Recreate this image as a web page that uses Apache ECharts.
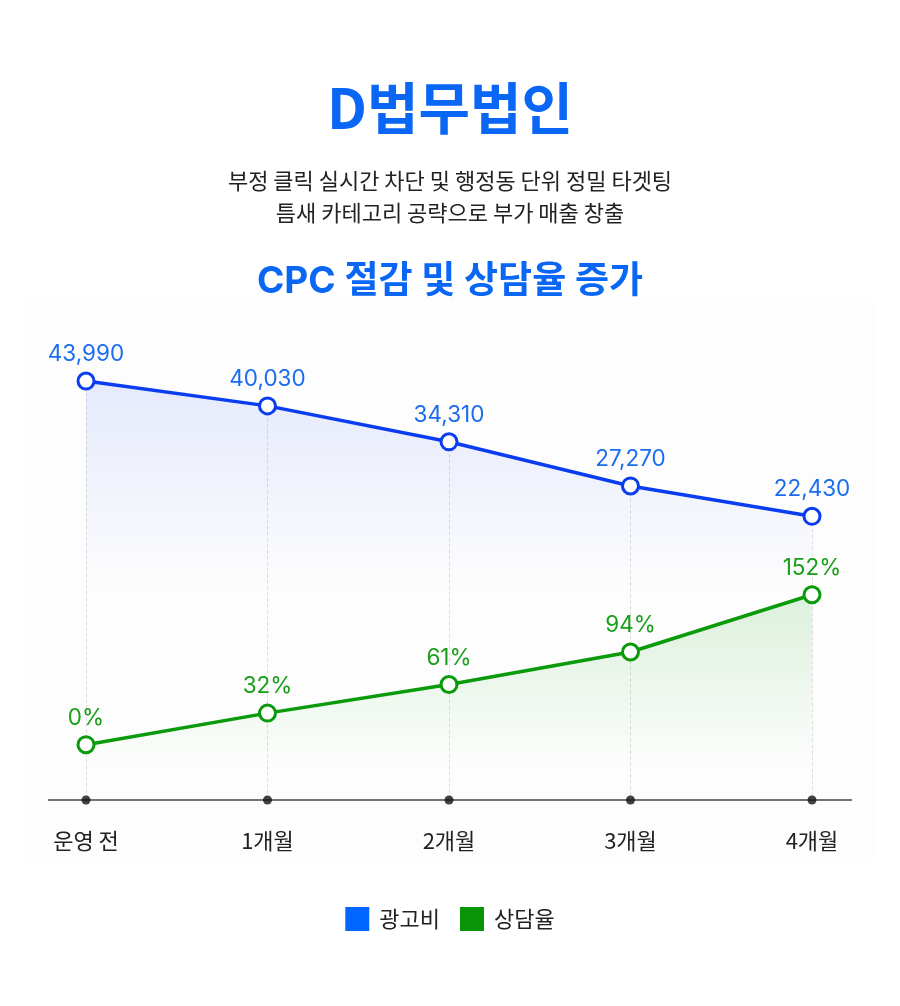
<!DOCTYPE html>
<html>
<head>
<meta charset="utf-8">
<script src="https://cdn.jsdelivr.net/npm/echarts@6/dist/echarts.min.js"></script>
<style>
  html, body { margin: 0; padding: 0; background: #fff; }
  #chart { width: 900px; height: 1006px; }
</style>
</head>
<body>
<div id="chart"></div>
<script>
// 데이터
const months = ["운영 전", "1개월", "2개월", "3개월", "4개월"];
const adCost = [43990, 40030, 34310, 27270, 22430];
const consultRate = [0, 32, 61, 94, 152];
const seriesNames = ["광고비", "상담율"];

// 축 범위 (숨김 축)
const costMin = -22776, costMax = 56905;
const rateMin = -56.1, rateMax = 450.9;

const FONT = "Inter, 'Noto Sans CJK KR', sans-serif";
const KR = "'Noto Sans CJK KR', sans-serif";

const chart = echarts.init(document.getElementById("chart"));

// 점선 세로선 (포인트 -> 축)
let guides = adCost.map(function (v, i) {
    return [{ coord: [i, v] }, { coord: [i, costMin] }];
});

const option = {
    animation: false,
    textStyle: { fontFamily: FONT },
    graphic: [
        {
            type: "rect", z: -10, silent: true,
            shape: { x: 28, y: 298, width: 844, height: 564, r: 2 },
            style: { fill: "#fdfdfd", shadowBlur: 10, shadowColor: "rgba(0,0,0,0.02)" }
        },
        {
            type: "text", silent: true,
            style: { text: "D법무법인", x: 450, y: 108, textAlign: "center", textVerticalAlign: "middle",
                font: "bold 56px " + KR, fill: "#0a66f5" }
        },
        {
            type: "text", silent: true,
            style: { text: "부정 클릭 실시간 차단 및 행정동 단위 정밀 타겟팅", x: 450, y: 181,
                textAlign: "center", textVerticalAlign: "middle", font: "22px " + KR, fill: "#222" }
        },
        {
            type: "text", silent: true,
            style: { text: "틈새 카테고리 공략으로 부가 매출 창출", x: 450, y: 213,
                textAlign: "center", textVerticalAlign: "middle", font: "22px " + KR, fill: "#222" }
        },
        {
            type: "text", silent: true,
            style: { text: "CPC 절감 및 상담율 증가", x: 450, y: 282, textAlign: "center", textVerticalAlign: "middle",
                font: "bold 37px " + FONT, fill: "#0a66f5" }
        },
        {
            type: "line", z: 1, silent: true,
            shape: { x1: 48, y1: 800, x2: 852, y2: 800 },
            style: { stroke: "#444", lineWidth: 1.5 }
        }
    ],
    grid: { left: 86, right: 88, top: 300, bottom: 206 },
    legend: {
        top: 902,
        left: "center",
        icon: "rect",
        itemWidth: 24,
        itemHeight: 24,
        itemGap: 20,
        textStyle: { fontSize: 22, color: "#222", fontFamily: KR, padding: [0, 0, 0, 5] },
        data: [
            { name: seriesNames[0], itemStyle: { color: "#0066ff", borderWidth: 0 } },
            { name: seriesNames[1], itemStyle: { color: "#089608", borderWidth: 0 } }
        ]
    },
    xAxis: {
        type: "category",
        boundaryGap: false,
        data: months,
        axisLine: { show: false },
        axisTick: { show: false },
        splitLine: { show: false },
        axisLabel: { margin: 30, fontSize: 22, color: "#222", fontFamily: KR }
    },
    yAxis: [
        { type: "value", show: false, min: costMin, max: costMax, splitLine: { show: false } },
        { type: "value", show: false, min: rateMin, max: rateMax, splitLine: { show: false } }
    ],
    series: [
        {
            name: seriesNames[0],
            type: "line",
            yAxisIndex: 0,
            data: adCost,
            z: 4,
            symbol: "circle",
            symbolSize: 16,
            lineStyle: { color: "#0a3cf0", width: 3.5 },
            itemStyle: { color: "#fff", borderColor: "#0a3cf0", borderWidth: 3 },
            label: {
                show: true, position: "top", distance: 6,
                fontSize: 22.5, color: "#1a6cf0",
                formatter: function (p) { return p.value.toLocaleString("en-US"); }
            },
            areaStyle: {
                origin: "start",
                color: new echarts.graphic.LinearGradient(0, 0, 0, 1, [
                    { offset: 0, color: "rgba(40,80,235,0.16)" },
                    { offset: 0.5, color: "rgba(40,80,235,0)" }
                ])
            },
            markLine: {
                silent: true,
                symbol: "none",
                z: 1,
                label: { show: false },
                lineStyle: { type: "dashed", color: "#e0e0e0", width: 1 },
                data: guides
            }
        },
        {
            name: seriesNames[1],
            type: "line",
            yAxisIndex: 1,
            data: consultRate,
            z: 5,
            symbol: "circle",
            symbolSize: 16,
            lineStyle: { color: "#0a9a0a", width: 3.5 },
            itemStyle: { color: "#fff", borderColor: "#0a9a0a", borderWidth: 3 },
            label: {
                show: true, position: "top", distance: 6,
                fontSize: 22.5, color: "#17a017",
                formatter: "{c}%"
            },
            areaStyle: {
                origin: "start",
                color: new echarts.graphic.LinearGradient(0, 0, 0, 1, [
                    { offset: 0, color: "rgba(20,160,20,0.2)" },
                    { offset: 0.85, color: "rgba(20,160,20,0)" }
                ])
            }
        },
        {
            name: "axisDots",
            type: "scatter",
            yAxisIndex: 1,
            data: months.map(function () { return rateMin; }),
            symbolSize: 9,
            z: 10,
            silent: true,
            itemStyle: { color: "#111" }
        }
    ]
};

chart.setOption(option);
</script>
</body>
</html>
